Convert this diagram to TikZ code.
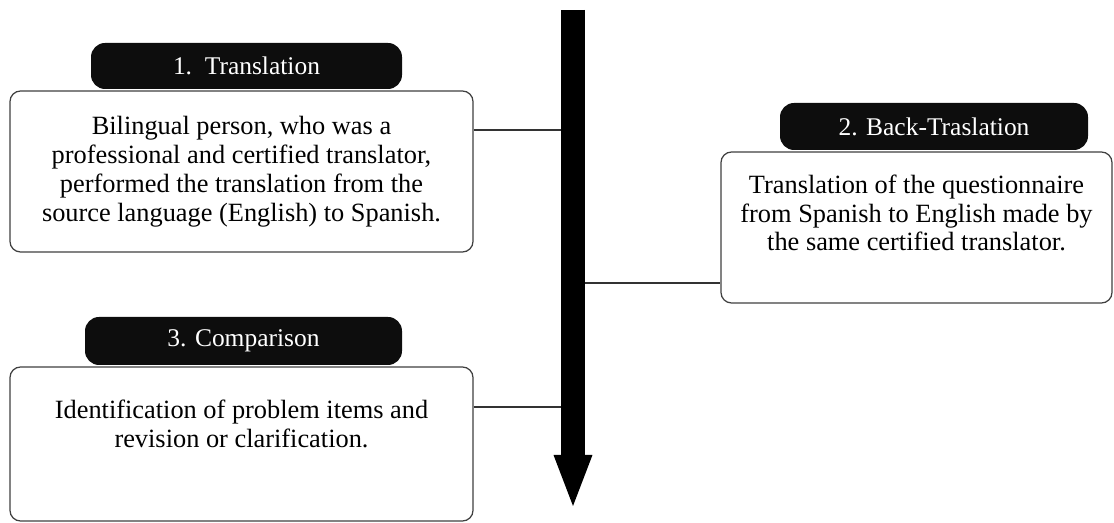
\documentclass[tikz,border=0pt]{standalone}
\usepackage{fontspec}
\setmainfont{Liberation Serif}
\usetikzlibrary{arrows.meta}

\tikzset{
  stepbox/.style={draw=black!75,line width=0.7pt,fill=white,rounded corners=6pt,
    inner sep=0pt},
  steptab/.style={fill=black!95,rounded corners=8pt,text=white,inner sep=0pt,
    font=\fontsize{14.5}{16}\selectfont},
  steptext/.style={align=center,font=\fontsize{15}{16.4}\selectfont},
  link/.style={draw=black!80,line width=0.7pt}
}

\begin{document}
\begin{tikzpicture}
  \useasboundingbox (0,0) rectangle (22.28,10.46);

  % time line
  \coordinate (top) at (11.46,10.26);
  \coordinate (tip) at (11.46,0.26);
  \draw[line width=0.48cm,-{Triangle[length=1.1cm,width=0.68cm]}] (top) -- (tip);

  % tabs
  \node [steptab,minimum width=6.22cm,minimum height=0.92cm] (tab1) at (4.93,9.14) {1.~~Translation};
  \node [steptab,minimum width=6.16cm,minimum height=0.94cm] (tab2) at (18.68,7.93) {2. Back-Traslation};
  \node [steptab,minimum width=6.34cm,minimum height=0.96cm] (tab3) at (4.87,3.64) {3. Comparison};

  % boxes
  \node [stepbox,minimum width=9.26cm,minimum height=3.22cm] (box1) at (4.83,7.03) {};
  \node [stepbox,minimum width=7.82cm,minimum height=3.02cm] (box2) at (18.33,5.91) {};
  \node [stepbox,minimum width=9.26cm,minimum height=3.08cm] (box3) at (4.83,1.58) {};

  \node [steptext] (txt1) at (4.83,7.03) {Bilingual person, who was a\\professional and certified translator,\\performed the translation from the\\source language (English) to Spanish.};
  \node [steptext] (txt2) at (18.33,6.2) {Translation of the questionnaire\\from Spanish to English made by\\the same certified translator.};
  \node [steptext] (txt3) at (4.83,1.98) {Identification of problem items and\\revision or clarification.};

  % links to the time line
  \coordinate (s1) at (11.22,7.86);
  \coordinate (s2) at (11.70,4.80);
  \coordinate (s3) at (11.22,2.32);
  \draw [link] (box1.east |- s1) -- (s1);
  \draw [link] (s2) -- (box2.west |- s2);
  \draw [link] (box3.east |- s3) -- (s3);
\end{tikzpicture}
\end{document}
